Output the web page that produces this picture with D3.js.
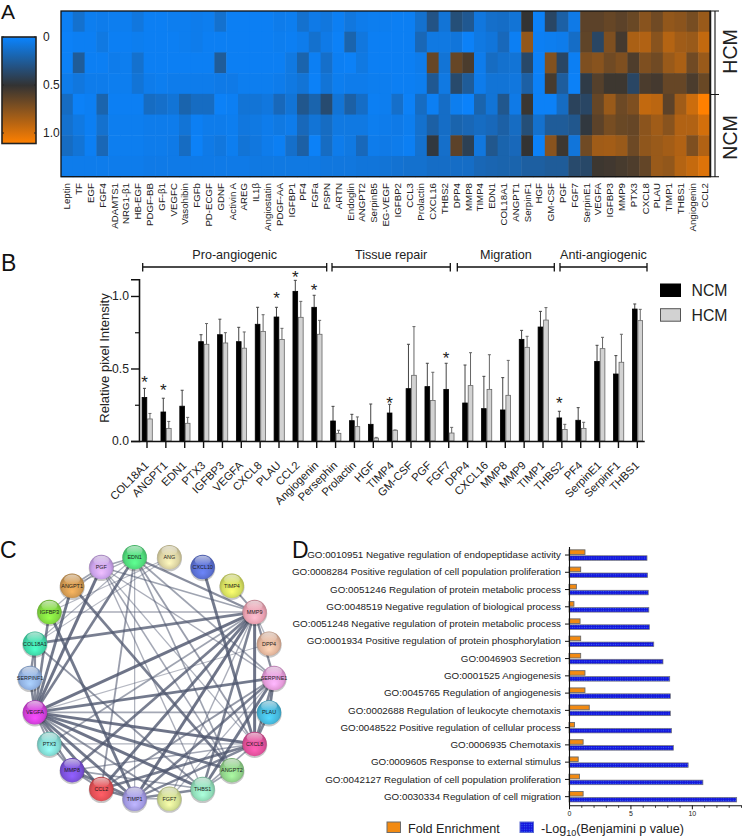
<!DOCTYPE html>
<html><head><meta charset="utf-8">
<script src="https://cdn.jsdelivr.net/npm/d3@7/dist/d3.min.js"></script>
<style>html,body{margin:0;padding:0;background:#fff}svg{display:block}text{font-family:"Liberation Sans",Arial,sans-serif;fill:#222}</style>
</head><body><svg id="c" width="742" height="839"></svg>
<script>
// ---- Panel A data
const heatGenes=["Leptin","TF","EGF","FGF4","ADAMTS1","NRG1-β1","HB-EGF","PDGF-BB","GF-β1","VEGFC","Vasohibin","FGFb","PD-ECGF","GDNF","Activin A","AREG","IL1β","Angiostatin","PDGF-AA","IGFBP1","PF4","FGFa","PSPN","ARTN","Endoglin","ANGPT2","SerpinB5","EG-VEGF","IGFBP2","CCL3","Prolactin","CXCL16","THBS2","DPP4","MMP8","TIMP4","EDN1","COL18A1","ANGPT1","SerpinF1","HGF","GM-CSF","PGF","FGF7","SerpinE1","VEGFA","IGFBP3","MMP9","PTX3","CXCL8","PLAU","TIMP1","THBS1","Angiogenin","CCL2"];
const heatSamples=["H1","H2","H3","H4","N1","N2","N3","N4"];
const h1=[.03,.12,.04,.05,.04,.04,.08,.03,.03,.04,.04,.05,.04,.12,.03,.03,.03,.03,.05,.04,.12,.06,.08,.03,.08,.05,.04,.04,.03,.03,.12,.3,.1,.33,.27,.08,.13,.14,.1,.5,.02,.38,.22,.06,.62,.62,.65,.62,.66,.75,.68,.78,.76,.7,.8];
const h2=[.02,.03,.03,.07,.03,.03,.04,.03,.03,.03,.04,.05,.03,.03,.03,.03,.03,.03,.04,.03,.05,.12,.06,.02,.2,.08,.03,.03,.03,.03,.18,.07,.07,.09,.02,.07,.09,.17,.03,.78,.03,.04,.05,.14,.63,.38,.72,.55,.85,.87,.75,.88,.82,.8,.92];
const h3=[.02,.25,.03,.03,.05,.04,.12,.03,.03,.03,.03,.03,.03,.25,.03,.03,.03,.03,.03,.07,.2,.03,.13,.03,.02,.07,.03,.03,.03,.03,.05,.65,.1,.65,.57,.05,.15,.12,.1,.37,.02,.73,.38,.03,.72,.75,.68,.72,.58,.72,.68,.8,.85,.68,.8];
const h4=[.05,.08,.05,.05,.04,.04,.1,.05,.04,.05,.05,.05,.05,.06,.06,.04,.04,.04,.05,.07,.1,.02,.1,.04,.05,.05,.04,.04,.03,.03,.04,.27,.07,.36,.25,.05,.1,.1,.08,.22,.02,.56,.24,.02,.45,.6,.53,.53,.38,.57,.55,.65,.65,.57,.66];
const h5=[.15,.02,.03,.2,.03,.03,.03,.15,.13,.1,.2,.15,.15,.02,.03,.1,.1,.08,.17,.1,.28,.2,.35,.1,.22,.14,.03,.04,.13,.02,.15,.03,.14,.04,.01,.2,.1,.28,.06,.52,.02,.02,.15,.4,.38,.65,.8,.67,.72,.92,.9,.62,.82,.95,1.1];
const h6=[.12,.07,.03,.12,.04,.04,.04,.05,.05,.05,.1,.03,.05,.05,.04,.08,.07,.05,.07,.05,.17,.1,.15,.07,.07,.07,.04,.05,.06,.04,.12,.22,.14,.2,.18,.15,.17,.22,.15,.33,.12,.25,.25,.28,.47,.62,.7,.66,.65,.76,.82,.75,.87,.87,.97];
const h7=[.15,.1,.03,.18,.04,.04,.04,.05,.05,.06,.15,.02,.06,.08,.04,.1,.08,.05,.03,.13,.22,.02,.15,.05,.07,.17,.05,.06,.05,.03,.12,.47,.13,.62,.42,.08,.28,.2,.17,.5,.02,.75,.53,.09,.68,.82,.83,.8,.67,.77,.8,.83,.87,.72,.87];
const h8=[.05,.05,.05,.05,.05,.05,.05,.06,.06,.06,.06,.06,.06,.06,.06,.06,.07,.07,.07,.07,.07,.07,.08,.08,.08,.09,.09,.1,.11,.12,.12,.14,.14,.14,.14,.18,.19,.2,.2,.23,.23,.25,.25,.36,.37,.53,.54,.56,.58,.64,.8,.78,.88,.93,1.0];
const heatRows=[h1,h2,h3,h4,h5,h6,h7,h8];
const heatTicks=[0,0.5,1.0];
// ---- Panel B data
const barCats=["COL18A1","ANGPT1","EDN1","PTX3","IGFBP3","VEGFA","CXCL8","PLAU","CCL2","Angiogenin","Persephin","Prolactin","HGF","TIMP4","GM-CSF","PGF","FGF7","DPP4","CXCL16","MMP8","MMP9","TIMP1","THBS2","PF4","SerpinE1","SerpinF1","THBS1"];
const ncmMean=[.30,.20,.24,.685,.733,.685,.805,.855,1.032,.922,.138,.14,.115,.193,.361,.375,.356,.262,.223,.214,.701,.786,.159,.143,.549,.462,.91];
const ncmTop=[.363,.295,.35,.733,.84,.784,.922,.922,1.108,1.005,.239,.184,.255,.253,.667,.536,.536,.524,.446,.437,.763,.894,.205,.23,.66,.589,.945];
const hcmMean=[.152,.087,.122,.667,.676,.64,.756,.70,.853,.736,.053,.099,.02,.074,.453,.28,.055,.382,.356,.315,.646,.834,.08,.087,.637,.543,.83];
const hcmTop=[.19,.135,.163,.81,.747,.752,.871,.777,.963,.832,.074,.166,.025,.076,.789,.474,.094,.609,.595,.556,.722,.92,.115,.129,.715,.736,.908];
const starred=["COL18A1","ANGPT1","PLAU","CCL2","Angiogenin","TIMP4","FGF7","THBS2"];
const starLevel=[.432,.375,1.011,1.156,1.064,.287,.598,.287];
const barGroups=["Pro-angiogenic","Tissue repair","Migration","Anti-angiogenic"];
// ---- Panel C data
const netNodes=["EDN1","ANG","CXCL10","TIMP4","MMP9","DPP4","SERPINE1","PLAU","CXCL8","ANGPT2","THBS1","FGF7","TIMP1","CCL2","MMP8","PTX3","VEGFA","SERPINF1","COL18A1","IGFBP3","ANGPT1","PGF"];
const netColors=["#4fd97a","#d9d0a0","#5a6fd0","#d3dc5e","#e8a0b0","#e0b39a","#e39ad8","#45b5d8","#e0509a","#8fd088","#90dcb8","#d0dc90","#a098e0","#e04f55","#7a50d8","#80d8d0","#d040d8","#90b0e0","#40d8a8","#80d840","#d09850","#c8a0e8"];
const netEdges=[
["VEGFA","MMP9",.95],["VEGFA","SERPINE1",.9],["VEGFA","PLAU",.45],["VEGFA","CXCL8",.95],["VEGFA","THBS1",.95],["VEGFA","TIMP1",.9],["VEGFA","CCL2",.9],["VEGFA","MMP8",.7],["VEGFA","PTX3",.6],["VEGFA","SERPINF1",.8],["VEGFA","COL18A1",.7],["VEGFA","IGFBP3",.8],["VEGFA","ANGPT1",.9],["VEGFA","PGF",.95],["VEGFA","EDN1",.85],["VEGFA","ANGPT2",.9],["VEGFA","FGF7",.6],["VEGFA","DPP4",.3],
["MMP9","COL18A1",.85],["MMP9","IGFBP3",.4],["MMP9","EDN1",.7],["MMP9","PGF",.5],["MMP9","TIMP4",.6],["MMP9","TIMP1",.95],["MMP9","CCL2",.9],["MMP9","MMP8",.85],["MMP9","THBS1",.8],["MMP9","CXCL8",.95],["MMP9","PTX3",.5],["MMP9","SERPINE1",.7],["MMP9","DPP4",.35],["MMP9","FGF7",.4],
["SERPINE1","TIMP1",.8],["SERPINE1","THBS1",.9],["SERPINE1","CXCL8",.8],["SERPINE1","CCL2",.6],["SERPINE1","PGF",.4],["SERPINE1","EDN1",.5],["SERPINE1","FGF7",.35],["SERPINE1","PLAU",.9],
["CXCL8","CXCL10",.9],["CXCL8","TIMP1",.75],["CXCL8","CCL2",.85],["CXCL8","MMP8",.45],["CXCL8","EDN1",.55],["CXCL8","PTX3",.35],["CXCL8","PGF",.35],["CXCL8","THBS1",.5],["CXCL8","PLAU",.8],
["ANGPT1","ANGPT2",.85],["ANGPT1","PGF",.5],["ANGPT1","EDN1",.4],["IGFBP3","TIMP1",.9],["IGFBP3","PGF",.35],["IGFBP3","ANG",.3],["COL18A1","THBS1",.6],["COL18A1","EDN1",.35],["COL18A1","SERPINF1",.7],
["EDN1","CCL2",.55],["EDN1","ANGPT2",.5],["EDN1","PGF",.5],["PGF","ANGPT2",.45],["PGF","THBS1",.4],["ANG","COL18A1",.3],["TIMP1","THBS1",.75],["TIMP1","CCL2",.8],["TIMP1","MMP8",.85],["TIMP1","FGF7",.4],["THBS1","MMP8",.5],["CCL2","MMP8",.6],["EDN1","TIMP1",.35],["PTX3","MMP8",.6],["THBS1","ANGPT2",.5]
];
// ---- Panel D data
const goTerms=["GO:0010951 Negative regulation of endopeptidase activity","GO:0008284 Positive regulation of cell population proliferation","GO:0051246 Regulation of protein metabolic process","GO:0048519 Negative regulation of biological process","GO:0051248 Negative regulation of protein metabolic process","GO:0001934 Positive regulation of protein phosphorylation","GO:0046903 Secretion","GO:0001525 Angiogenesis","GO:0045765 Regulation of angiogenesis","GO:0002688 Regulation of leukocyte chemotaxis","GO:0048522 Positive regulation of cellular process","GO:0006935 Chemotaxis","GO:0009605 Response to external stimulus","GO:0042127 Regulation of cell population proliferation","GO:0030334 Regulation of cell migration"];
const foldEnrich=[1.3,.95,.6,.4,.9,.95,.95,1.3,1.3,1.65,.45,1.15,.75,.85,1.15];
const logP=[6.35,6.4,6.45,6.5,6.55,6.9,7.65,8.2,8.25,8.25,8.35,8.5,9.7,10.9,13.65];

const svg=d3.select("#c"), defs=svg.append("defs");
const letter=(t,x,y,s)=>svg.append("text").attr("x",x).attr("y",y).attr("font-size",s).style("fill","#111").text(t);
letter("A",1,19,21);letter("B",1,271,23);letter("C",0,558,23);letter("D",292,558,23);

// ===== A
const hx=d3.scaleBand().domain(heatGenes).range([61,710]);
const hy=d3.scaleBand().domain(heatSamples).range([11,176.7]);
const heatColor=d3.scaleLinear().domain([0,.5,1.1]).range(["#0a84ff","#333333","#ff8000"]);
const A=svg.append("g");
heatRows.forEach((row,i)=>{
  A.selectAll(null).data(row).join("rect")
   .attr("x",(d,j)=>hx(heatGenes[j])).attr("y",hy(heatSamples[i]))
   .attr("width",hx.bandwidth()+.5).attr("height",hy.bandwidth()+.5).attr("fill",d=>heatColor(d));
});
A.append("rect").attr("x",61).attr("y",11).attr("width",649).attr("height",165.7).attr("fill","none").attr("stroke","#111").attr("stroke-width",1.3);
const hAxis=A.append("g").attr("transform","translate(0,178)").call(d3.axisBottom(hx).tickSize(0));
hAxis.select(".domain").remove();
hAxis.selectAll("text").attr("font-size",9.7).attr("text-anchor","end").attr("dy",0).attr("y",0)
  .attr("transform","translate(3.4,5) rotate(-90)");
// group bracket: two rails with ticks at the top, the split and the bottom
const bracket=d3.path();
[710.7,715].forEach(x=>{bracket.moveTo(x,11);bracket.lineTo(x,176.7);});
[11,94.5,176.7].forEach(y=>{bracket.moveTo(710,y);bracket.lineTo(719,y);});
A.append("path").attr("d",bracket.toString()).attr("fill","none").attr("stroke","#111").attr("stroke-width",1.1);
[["HCM",51.5],["NCM",137.5]].forEach(([t,y])=>A.append("text").attr("transform",`translate(737,${y}) rotate(-90)`).attr("text-anchor","middle").attr("font-size",19.5).text(t));
// colorbar
const cbY=d3.scaleLinear().domain([0,1]).range([37,133]);
const grad=defs.append("linearGradient").attr("id","cb").attr("x1",0).attr("x2",0).attr("y1",0).attr("y2",1);
d3.range(0,1.1001,.05).forEach(v=>grad.append("stop").attr("offset",v/1.1).attr("stop-color",heatColor(v)));
A.append("rect").attr("x",2).attr("y",37).attr("width",34).attr("height",106.5).attr("fill","url(#cb)").attr("stroke","#222").attr("stroke-width",1.6);
heatTicks.forEach(v=>{
  A.append("text").attr("x",43).attr("y",cbY(v)+4).attr("font-size",12).text(v===0?"0":v.toFixed(1));
  A.append("line").attr("x1",2).attr("x2",4).attr("y1",cbY(v)).attr("y2",cbY(v)).attr("stroke","#222");
  A.append("line").attr("x1",34).attr("x2",36).attr("y1",cbY(v)).attr("y2",cbY(v)).attr("stroke","#222");
});

// ===== B
const bx=d3.scaleBand().domain(barCats).range([137.57,646.73]);
const by=d3.scaleLinear().domain([0,1]).range([441,296]);
const bg=d3.scaleBand().domain(["NCM","HCM"]).range([-5.3,5.7]);
const B=svg.append("g");
const cx=c=>bx(c)+bx.bandwidth()/2;
const series=[["NCM",ncmMean,ncmTop,"#000","#000","#444"],["HCM",hcmMean,hcmTop,"#d2d2d2","#666","#666"]];
series.forEach(([name,m,t,fill,stroke,err])=>{
  const off=bg(name),w=bg.bandwidth();
  B.selectAll(null).data(barCats).join("line")
   .attr("x1",c=>cx(c)+off+w/2).attr("x2",c=>cx(c)+off+w/2)
   .attr("y1",(c,i)=>by(m[i])).attr("y2",(c,i)=>by(t[i])).attr("stroke",err).attr("stroke-width",1);
  B.selectAll(null).data(barCats).join("line")
   .attr("x1",c=>cx(c)+off+w/2-1.5).attr("x2",c=>cx(c)+off+w/2+1.5)
   .attr("y1",(c,i)=>by(t[i])).attr("y2",(c,i)=>by(t[i])).attr("stroke",err).attr("stroke-width",1);
  B.selectAll(null).data(barCats).join("rect")
   .attr("x",c=>cx(c)+off+.4).attr("width",w-.8)
   .attr("y",(c,i)=>by(m[i])).attr("height",(c,i)=>by(0)-by(m[i]))
   .attr("fill",fill).attr("stroke",stroke).attr("stroke-width",.8);
});
B.selectAll(null).data(starred).join("text")
 .attr("x",c=>cx(c)+bg("NCM")+bg.bandwidth()/2).attr("text-anchor","middle").attr("font-size",17)
 .attr("y",(c,i)=>by(starLevel[i])+9.5).text("*");
const yA=B.append("g").attr("transform","translate(139,0)").call(d3.axisLeft(by.copy().domain([0,1.115]).range([441,279.3])).tickValues([0,.5,1]).tickFormat(d3.format(".1f")).tickSize(8).tickPadding(2));
yA.selectAll("text").attr("font-size",12.2);
yA.select(".domain").attr("stroke-width",1.6).attr("stroke","#111");
yA.selectAll("line").attr("stroke-width",1.4).attr("stroke","#111");
const yM=B.append("g").attr("transform","translate(139,0)").call(d3.axisLeft(by).tickValues([.25,.75]).tickSize(4).tickFormat(""));
yM.select(".domain").remove();yM.selectAll("line").attr("stroke-width",1.2).attr("stroke","#111");
B.append("text").attr("transform","translate(109,358) rotate(-90)").attr("text-anchor","middle").attr("font-size",13).text("Relative pixel Intensity");
const xA=B.append("g").attr("transform","translate(0,441)").call(d3.axisBottom(bx).tickSize(7).tickSizeOuter(0));
xA.select(".domain").attr("stroke-width",1.6).attr("stroke","#111").attr("d","M139,0.5H644.7");
xA.selectAll("line").attr("stroke-width",1.4).attr("stroke","#111");
xA.selectAll("text").attr("font-size",11.2).attr("text-anchor","end").attr("y",0).attr("dy",0).attr("transform","translate(2.5,25) rotate(-45)");
const bracketSpan=[[142.7,326.7],[332,450.3],[457.3,554.3],[560,647]];
barGroups.forEach((t,i)=>{
  const [a,b]=bracketSpan[i],p=d3.path();
  p.moveTo(a,267);p.lineTo(b,267);p.moveTo(a,263);p.lineTo(a,271.5);p.moveTo(b,263);p.lineTo(b,271.5);
  B.append("path").attr("d",p.toString()).attr("stroke","#111").attr("stroke-width",1.3).attr("fill","none");
  B.append("text").attr("x",(a+b)/2).attr("y",259).attr("text-anchor","middle").attr("font-size",12.6).text(t);
});
[["NCM",284,"#000","#000"],["HCM",308.7,"#d2d2d2","#555"]].forEach(([t,y,f,s])=>{
  B.append("rect").attr("x",660.5).attr("y",y).attr("width",20).attr("height",12.5).attr("fill",f).attr("stroke",s);
  B.append("text").attr("x",691.5).attr("y",y+12).attr("font-size",15.8).text(t);
});

// ===== C
const C=svg.append("g").attr("transform","translate(152,678)");
const ang=d3.scalePoint().domain(netNodes).range([-8.18,-8.18+360*21/22]);
const nodeX=n=>122*Math.sin(ang(n)*Math.PI/180), nodeY=n=>-122*Math.cos(ang(n)*Math.PI/180);
const edgeW=d3.scaleLinear().domain([.3,.95]).range([1.1,3]);
const edgeO=d3.scaleLinear().domain([.3,.95]).range([.42,.82]);
C.selectAll(null).data(netEdges).join("line")
 .attr("x1",e=>nodeX(e[0])).attr("y1",e=>nodeY(e[0])).attr("x2",e=>nodeX(e[1])).attr("y2",e=>nodeY(e[1]))
 .attr("stroke","#4e566e").attr("stroke-width",e=>edgeW(e[2])).attr("stroke-opacity",e=>edgeO(e[2]));
netNodes.forEach((n,i)=>{
  const col=d3.rgb(netColors[i]);
  const g=defs.append("radialGradient").attr("id","n"+i).attr("cx",.5).attr("cy",.52).attr("r",.55).attr("fx",.5).attr("fy",.75);
  g.append("stop").attr("offset",0).attr("stop-color",col.brighter(.5).formatHex());
  g.append("stop").attr("offset",.7).attr("stop-color",col.formatHex());
  g.append("stop").attr("offset",1).attr("stop-color",col.darker(.7).formatHex());
});
defs.append("linearGradient").attr("id","gloss").attr("x1",0).attr("x2",0).attr("y1",0).attr("y2",1)
  .call(s=>{s.append("stop").attr("offset",0).attr("stop-color","#fff").attr("stop-opacity",.6);s.append("stop").attr("offset",1).attr("stop-color","#fff").attr("stop-opacity",.03);});
const nd=C.selectAll(null).data(netNodes).join("g").attr("transform",n=>`translate(${nodeX(n)},${nodeY(n)})`);
nd.append("circle").attr("r",12.6).attr("cy",1.5).attr("fill","#000").attr("opacity",.22);
nd.append("circle").attr("r",12.2).attr("fill",(n,i)=>`url(#n${i})`);
nd.append("ellipse").attr("cy",-6.5).attr("rx",8).attr("ry",4.8).attr("fill","url(#gloss)");
nd.append("text").attr("text-anchor","middle").attr("y",2).attr("font-size",5.4).style("fill","#1a1a1a").text(n=>n);

// ===== D
const dx=d3.scaleLinear().domain([0,14]).range([569,741]);
const dy=d3.scaleBand().domain(goTerms).range([546.4,805.3]);
const pat=defs.append("pattern").attr("id","dots").attr("width",2.4).attr("height",2.4).attr("patternUnits","userSpaceOnUse");
pat.append("rect").attr("width",2.4).attr("height",2.4).attr("fill","#1414dc");
pat.append("circle").attr("cx",1.2).attr("cy",1.2).attr("r",.6).attr("fill","#3a6cf5");
const D=svg.append("g");
const dc=t=>dy(t)+dy.bandwidth()/2;
D.selectAll(null).data(goTerms).join("rect").attr("x",dx(0)).attr("y",t=>dc(t)-5.2)
 .attr("width",(t,i)=>dx(foldEnrich[i])-dx(0)).attr("height",4.6).attr("fill","#f28a12").attr("stroke","#6b6b6b").attr("stroke-width",.9);
D.selectAll(null).data(goTerms).join("rect").attr("x",dx(0)).attr("y",t=>dc(t)+.7)
 .attr("width",(t,i)=>dx(logP[i])-dx(0)).attr("height",4.6).attr("fill","url(#dots)").attr("stroke","#777").attr("stroke-width",.7);
const dL=D.append("g").attr("transform","translate(569,0)").call(d3.axisLeft(dy).tickSize(4).tickPadding(4).tickSizeOuter(0));
dL.selectAll("text").attr("font-size",9.8);dL.select(".domain").attr("stroke","#111").attr("stroke-width",1.1);dL.selectAll("line").attr("stroke","#111");
const dB=D.append("g").attr("transform","translate(0,805.3)").call(d3.axisBottom(dx).tickValues([0,5,10]).tickSize(4).tickPadding(2).tickSizeOuter(0));
dB.selectAll("text").attr("font-size",7);dB.select(".domain").attr("stroke","#111").attr("stroke-width",1.1);dB.selectAll("line").attr("stroke","#111");
const dM=D.append("g").attr("transform","translate(0,805.3)").call(d3.axisBottom(dx).tickValues(d3.range(1,15).filter(v=>v%5)).tickSize(2.5).tickFormat(""));
dM.select(".domain").remove();dM.selectAll("line").attr("stroke","#333");
D.append("rect").attr("x",387).attr("y",822).attr("width",13.5).attr("height",10.5).attr("fill","#f28a12").attr("stroke","#6b6b6b");
D.append("text").attr("x",408).attr("y",832.5).attr("font-size",12.6).text("Fold Enrichment");
D.append("rect").attr("x",520).attr("y",822).attr("width",13.5).attr("height",10.5).attr("fill","url(#dots)").attr("stroke","#5a6ad0");
const lg=D.append("text").attr("x",541).attr("y",832.5).attr("font-size",12.6);
lg.append("tspan").text("-Log");lg.append("tspan").attr("dy",3).attr("font-size",9).text("10");lg.append("tspan").attr("dy",-3).text("(Benjamini p value)");
</script></body></html>
